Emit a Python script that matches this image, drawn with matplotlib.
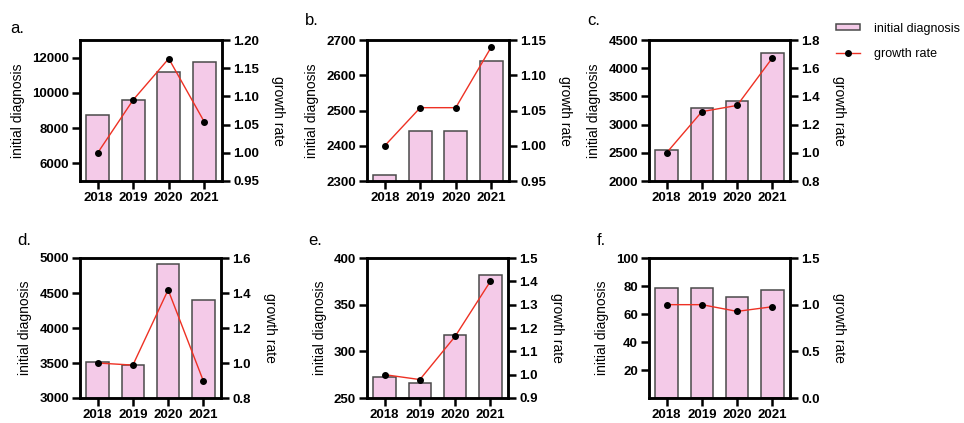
import numpy as np
from matplotlib import pyplot as plt
from matplotlib.ticker import FormatStrFormatter

plt.rcParams["font.family"] = ["Liberation Sans", "DejaVu Sans"]

# data
years = ["2018", "2019", "2020", "2021"]

a_cases = [8720, 9570, 11190, 11780]
a_growth = [1.00, 1.094, 1.167, 1.055]
b_cases = [2316, 2441, 2441, 2641]
b_growth = [1.00, 1.054, 1.054, 1.140]
c_cases = [2557, 3300, 3418, 4270]
c_growth = [1.00, 1.292, 1.336, 1.673]
d_cases = [3512, 3470, 4910, 4395]
d_growth = [1.00, 0.988, 1.418, 0.897]
e_cases = [272.5, 266.5, 317, 382]
e_growth = [1.00, 0.979, 1.164, 1.40]
f_cases = [78.6, 78.6, 72.4, 76.9]
f_growth = [1.00, 1.00, 0.928, 0.978]

# per panel: letter, cases, growth, left ticks, left lim, right ticks, right fmt
panels = [
    ("a.", a_cases, a_growth, np.arange(6000, 12001, 2000), (5000, 13000),
     np.arange(0.95, 1.2001, 0.05), "%.2f"),
    ("b.", b_cases, b_growth, np.arange(2300, 2701, 100), (2300, 2700),
     np.arange(0.95, 1.1501, 0.05), "%.2f"),
    ("c.", c_cases, c_growth, np.arange(2000, 4501, 500), (2000, 4500),
     np.arange(0.8, 1.801, 0.2), "%.1f"),
    ("d.", d_cases, d_growth, np.arange(3000, 5001, 500), (3000, 5000),
     np.arange(0.8, 1.601, 0.2), "%.1f"),
    ("e.", e_cases, e_growth, np.arange(250, 401, 50), (250, 400),
     np.arange(0.9, 1.501, 0.1), "%.1f"),
    ("f.", f_cases, f_growth, np.arange(20, 101, 20), (0, 100),
     np.arange(0.0, 1.501, 0.5), "%.1f"),
]

W, H = 964, 423
# axes boxes in pixels: left, top, right, bottom
boxes = [
    (80, 40, 222, 181), (367, 40, 509, 181), (649, 40, 790, 181),
    (80, 258, 221, 398), (367, 258, 508, 398), (649, 258, 790, 398),
]
letter_pos = [(10, 33), (305, 25), (587, 25), (17, 245), (308, 245), (597, 245)]

bar_color = "#f4cae8"
edge_color = "#4a4a4a"
line_color = "#ee3124"

fig = plt.figure(figsize=(W / 100, H / 100), dpi=100)

x = np.arange(len(years))
for (letter, cases, growth, lt, llim, rt, rfmt), box, lp in zip(panels, boxes, letter_pos):
    l, t, r, b = box
    ax = fig.add_axes([l / W, 1 - b / H, (r - l) / W, (b - t) / H])
    bars = ax.bar(x, cases, width=0.64, color=bar_color, edgecolor=edge_color,
                  linewidth=1.1, label="initial diagnosis")
    ax.set_xlim(-0.5, 3.5)
    ax.set_ylim(*llim)
    ax.set_yticks(lt)
    ax.set_xticks(x)
    ax.set_xticklabels(years)
    ax.set_ylabel("initial diagnosis", fontsize=10, labelpad=5)

    ax2 = ax.twinx()
    line, = ax2.plot(x, growth, color=line_color, lw=1.0, marker="o",
                     markersize=4, markerfacecolor="black",
                     markeredgecolor="black", label="growth rate")
    ax2.set_ylim(rt[0], rt[-1])
    ax2.set_yticks(rt)
    ax2.yaxis.set_major_formatter(FormatStrFormatter(rfmt))
    ax2.set_ylabel("growth rate", fontsize=10, rotation=270, labelpad=19)

    for a_ in (ax, ax2):
        for s in a_.spines.values():
            s.set_linewidth(1.8)
        a_.tick_params(direction="out", length=6, width=1.8, labelsize=9.5,
                       pad=2)
        for lab in a_.get_xticklabels() + a_.get_yticklabels():
            lab.set_fontweight("bold")

    fig.text(lp[0] / W, 1 - lp[1] / H, letter, fontsize=12, va="baseline")

# legend on the right of the top row
fig.legend([bars, line], ["initial diagnosis", "growth rate"],
           loc="upper left", bbox_to_anchor=(827 / W, 1 - 14 / H),
           frameon=False, fontsize=9, handlelength=1.9, handleheight=0.4,
           handletextpad=1.2, labelspacing=1.05, borderpad=0.2)

fig.savefig("out.png", dpi=100)
